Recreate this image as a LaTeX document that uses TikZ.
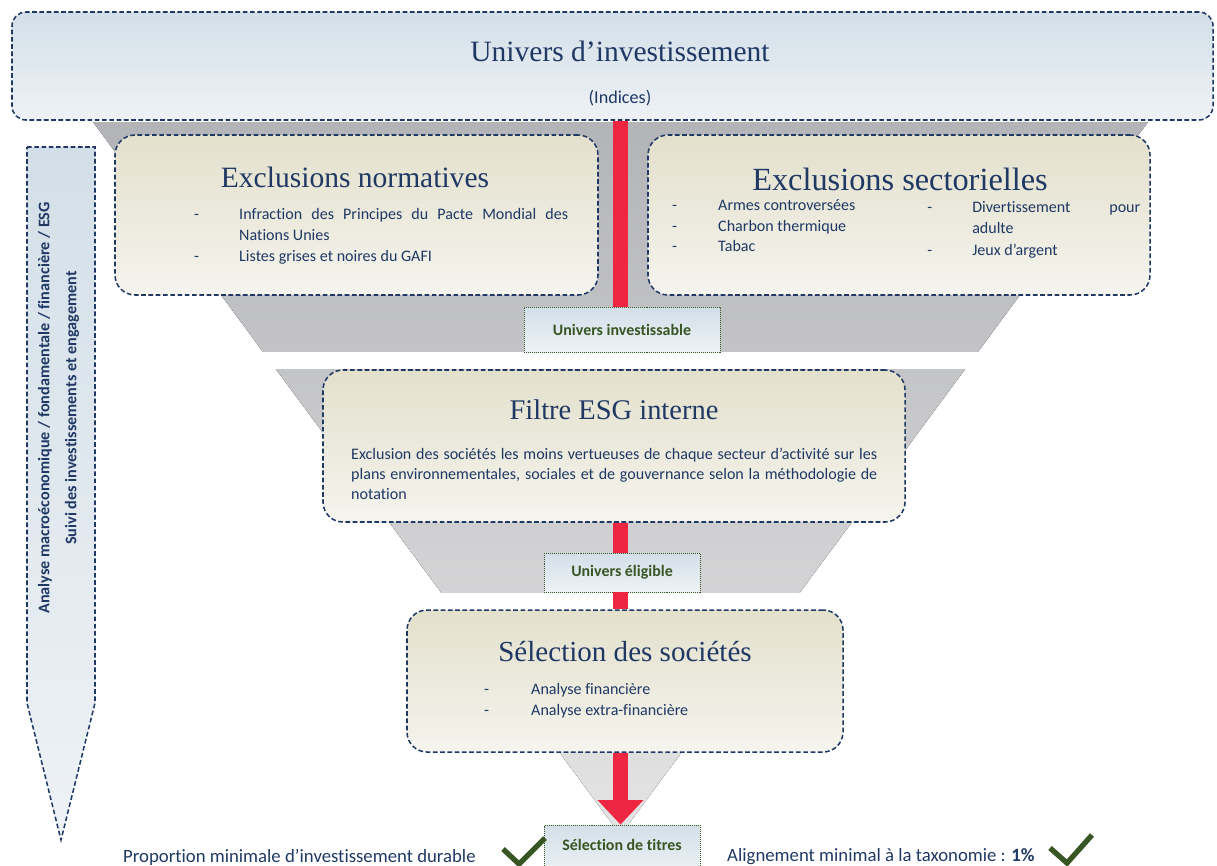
\documentclass[tikz,border=0pt]{standalone}
\usepackage{fontspec}
\setmainfont{Carlito}[Ligatures=NoCommon]
\newfontfamily\slabfont{Liberation Serif}
\usetikzlibrary{arrows.meta,positioning}
\newlength\px
\setlength\px{0.03cm}
\definecolor{navy}{HTML}{1F3864}
\definecolor{leaf}{HTML}{375623}
\definecolor{flame}{HTML}{EE2641}
\definecolor{skytop}{HTML}{D3DFE8}
\definecolor{skybot}{HTML}{EEF2F6}
\definecolor{sandtop}{HTML}{E3E0CC}
\definecolor{sandbot}{HTML}{F5F4EE}
\definecolor{funtop}{HTML}{B3B4B8}
\definecolor{funbot}{HTML}{E4E4E4}
\tikzstyle{panel}=[draw=navy,
                   line width=1.3pt,
                   dash pattern=on 4pt off 2.2pt,
                   rounded corners=20\px,
                   inner sep=0pt]
\tikzstyle{bluepanel}=[panel, rounded corners=14\px, top color=skytop, bottom color=skybot]
\tikzstyle{sandpanel}=[panel, top color=sandtop, bottom color=sandbot]
\tikzstyle{tagbox}=[draw=leaf,
                    densely dotted,
                    line width=0.7pt,
                    top color=skytop,
                    bottom color=skybot,
                    inner sep=0pt,
                    text=leaf,
                    font=\fontsize{13.6}{16}\selectfont\bfseries]
\tikzstyle{heading}=[inner sep=0pt, text=navy, font=\slabfont\fontsize{25.2}{29}\selectfont]
\tikzstyle{body}=[inner sep=0pt, anchor=base west, text=navy, font=\fontsize{13.7}{17}\selectfont]
\tikzstyle{sidetext}=[inner sep=0pt, rotate=90, text=navy, font=\fontsize{13.8}{16}\selectfont\bfseries]
\tikzstyle{redbar}=[draw=flame, line width=12.8pt]
\tikzstyle{check}=[draw=leaf, line width=4.5pt]

\begin{document}
\begin{tikzpicture}[x=\px, y=-\px]
    \useasboundingbox (0,0) rectangle (1217,865);
    % funnel
    \fill[top color=funtop, bottom color=funbot] (93,122) -- (1148,122) -- (620.5,835) -- cycle;
    \fill[white] (60,352) rectangle (1180,369);
    \fill[white] (60,593) rectangle (1180,610);
    \coordinate (axis) at (620.5,0);

    \node[bluepanel, minimum width=1201\px, minimum height=108\px] (univers) at (612.5,66) {};
    \node[heading] (universtitle) at (620,51) {Univers d’investissement};
    \node[body, anchor=center, font=\fontsize{15.5}{18}\selectfont] (indices) at (620,98) {(Indices)};

    \node[sandpanel, minimum width=483\px, minimum height=160\px] (normative) at (356.5,215) {};
    \node[heading] (normtitle) at (355,177) {Exclusions normatives};
    \node[body] (normdash1) at (194,219) {-};
    \node[body] (normitem1) at (239,219) {\makebox[329\px][s]{Infraction des Principes du Pacte Mondial des}};
    \node[body] (normitem1b) at (239,240) {Nations Unies};
    \node[body] (normdash2) at (194,261) {-};
    \node[body] (normitem2) at (239,261) {Listes grises et noires du GAFI};

    \node[sandpanel, minimum width=502\px, minimum height=160\px] (sector) at (899,215) {};
    \node[heading, font=\slabfont\fontsize{27.6}{31}\selectfont] (sectortitle) at (900,179) {Exclusions sectorielles};
    \node[body] (secdash1) at (672,210) {-};
    \node[body] (secitem1) at (718,210) {Armes controversées};
    \node[body] (secdash2) at (672,231) {-};
    \node[body] (secitem2) at (718,231) {Charbon thermique};
    \node[body] (secdash3) at (672,251) {-};
    \node[body] (secitem3) at (718,251) {Tabac};
    \node[body] (secdash4) at (927,212) {-};
    \node[body] (secitem4) at (972,212) {\makebox[168\px][s]{Divertissement pour}};
    \node[body] (secitem4b) at (972,233) {adulte};
    \node[body] (secdash5) at (927,255) {-};
    \node[body] (secitem5) at (972,255) {Jeux d’argent};

    \node[tagbox, minimum width=196\px, minimum height=45\px] (investable) at (622,329.5) {Univers investissable};
    \draw[redbar] (univers.south -| axis) -- (investable.north -| axis);

    \node[sandpanel, minimum width=582\px, minimum height=152\px] (esgfilter) at (614,446) {};
    \node[heading, font=\slabfont\fontsize{24.3}{28}\selectfont] (esgtitle) at (614,410) {Filtre ESG interne};
    \node[body] (esgline1) at (351,459) {\makebox[526\px][s]{Exclusion des sociétés les moins vertueuses de chaque secteur d’activité sur les}};
    \node[body] (esgline2) at (351,479) {\makebox[526\px][s]{plans environnementales, sociales et de gouvernance selon la méthodologie de}};
    \node[body] (esgline3) at (351,499) {notation};

    \node[tagbox, minimum width=156\px, minimum height=39\px] (eligible) at (622,572.5) {Univers éligible};

    \node[sandpanel, minimum width=436\px, minimum height=142\px] (picking) at (625,681) {};
    \node[heading, font=\slabfont\fontsize{24.8}{28}\selectfont] (pickingtitle) at (625,652) {Sélection des sociétés};
    \node[body] (pickdash1) at (484,694) {-};
    \node[body] (pickitem1) at (531,694) {Analyse financière};
    \node[body] (pickdash2) at (484,715) {-};
    \node[body] (pickitem2) at (531,715) {Analyse extra-financière};

    \node[tagbox, minimum width=156\px, minimum height=50\px] (titles) at (622,850) {};
    \node[text=leaf, font=\fontsize{13.6}{16}\selectfont\bfseries, inner sep=0pt] (titleslabel) at (622,845) {Sélection de titres};

    \draw[redbar] (esgfilter.south -| axis) -- (eligible.north -| axis);
    \draw[redbar] (eligible.south -| axis) -- (picking.north -| axis);
    \draw[redbar, -{Triangle[width=38pt,length=21pt]}] (picking.south -| axis) -- (titles.north -| axis);

    % side arrow
    \draw[panel, sharp corners, top color=skytop, bottom color=skybot]
        (27,147) -- (95,147) -- (95,703) -- (61,840) -- (27,703) -- cycle;
    \node[sidetext] (macro) at (45,408) {Analyse macroéconomique / fondamentale / financière / ESG};
    \node[sidetext] (followup) at (72,408) {Suivi des investissements et engagement};

    % bottom notes
    \node[body, anchor=west, font=\fontsize{16}{19}\selectfont] (durable) at (123,857) {Proportion minimale d’investissement durable};
    \draw[check] (503,849) -- (519,864) -- (545,838);
    \node[body, anchor=west, font=\fontsize{16}{19}\selectfont] (taxonomy) at (727,857) {Alignement minimal à la taxonomie : \textbf{1\%}};
    \draw[check] (1050,848) -- (1067,863) -- (1092,835);
\end{tikzpicture}
\end{document}
